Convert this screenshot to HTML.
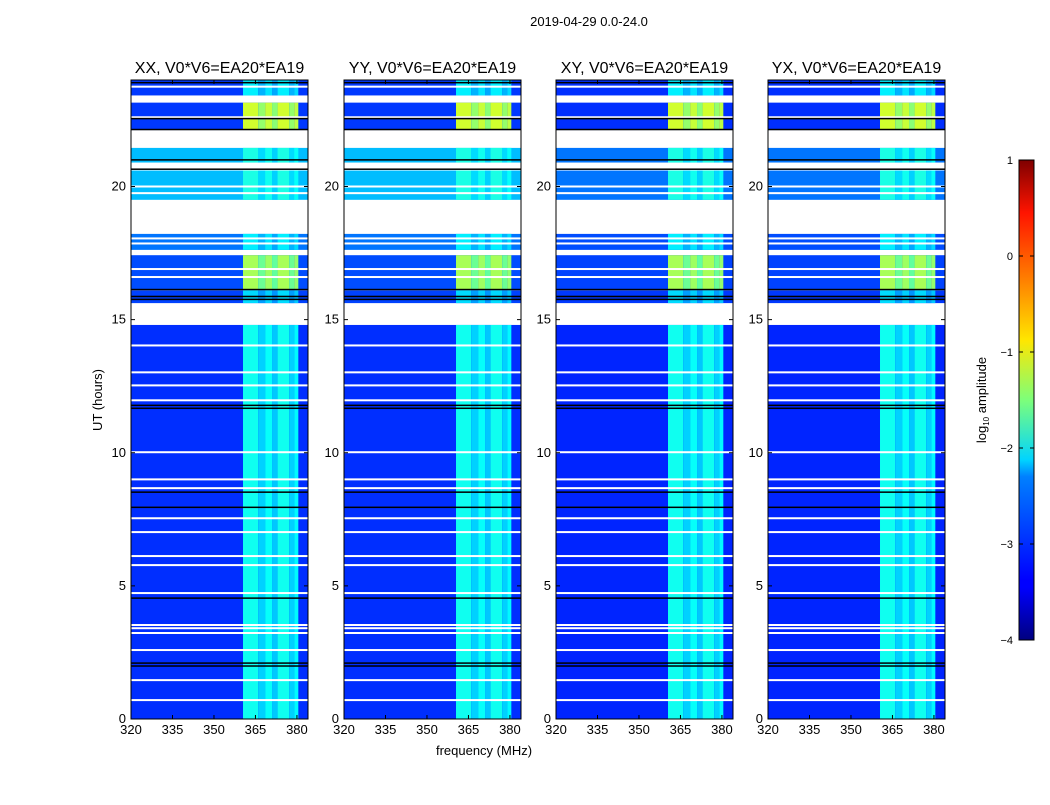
<!DOCTYPE html>
<html><head><meta charset="utf-8"><style>
body{margin:0;background:#fff;width:1050px;height:800px;overflow:hidden;font-family:"Liberation Sans","DejaVu Sans",sans-serif}
svg text{font-family:"Liberation Sans","DejaVu Sans",sans-serif}
</style></head><body>
<svg id="fig" width="1050" height="800" xmlns="http://www.w3.org/2000/svg">
<defs>
<linearGradient id="jet" x1="0" y1="1" x2="0" y2="0">
<stop offset="0" stop-color="#00007f"/><stop offset="0.11" stop-color="#0000ff"/><stop offset="0.125" stop-color="#0000ff"/>
<stop offset="0.34" stop-color="#0080ff"/><stop offset="0.375" stop-color="#00d4ff"/><stop offset="0.5" stop-color="#7dff7a"/>
<stop offset="0.625" stop-color="#ffe600"/><stop offset="0.75" stop-color="#ff8000"/><stop offset="0.89" stop-color="#ff1400"/><stop offset="1" stop-color="#7f0000"/>
</linearGradient>
</defs>
<text x="589" y="26" font-size="13" text-anchor="middle">2019-04-29 0.0-24.0</text>
<g id="panels"></g>
<text x="484" y="755" font-size="13" text-anchor="middle">frequency (MHz)</text>
<text x="0" y="0" font-size="13" text-anchor="middle" transform="translate(102,400) rotate(-90)">UT (hours)</text>
<g>
<rect x="1019" y="160" width="15" height="480" fill="url(#jet)" stroke="#000" stroke-width="1"/>
<g id="cbticks"></g>
<text font-size="13" text-anchor="middle" transform="translate(986,400) rotate(-90)">log<tspan font-size="8" dy="3">10</tspan><tspan dy="-3"> amplitude</tspan></text>
</g>
</svg>
<script>
// ---- data ----
const panelTitles = ["XX, V0*V6=EA20*EA19","YY, V0*V6=EA20*EA19","XY, V0*V6=EA20*EA19","YX, V0*V6=EA20*EA19"];
const xTicks = [320,335,350,365,380];
const yTicks = [0,5,10,15,20];
const cbTicks = [-4,-3,-2,-1,0,1];
const segStart = [0, 15.62, 16.15, 17.62, 19.5, 20.9, 22.12, 23.42];
const segEnd   = [14.8, 16.1, 17.42, 18.22, 20.6, 21.45, 23.15, 24.0];
const bgCross  = [-3.2, -3.1, -3.05, -3.0, -2.8, -2.8, -3.15, -3.15];
const bgPar    = [-3.15, -3.05, -3.0, -2.8, -2.45, -2.45, -3.1, -3.1];
const bandLvl  = [-2.15, -2.4, -1.4, -2.3, -2.1, -2.1, -1.2, -2.3];
const subStart = [360.5, 366.0, 368.5, 371.0, 373.0, 377.2, 379.0];
const subEnd   = [366.0, 368.5, 371.0, 373.0, 377.2, 379.0, 380.5];
const subOff   = [0.1, -0.2, 0.05, -0.25, 0.1, -0.2, 0.0];
const whiteRows = [14.03,13.02,12.53,11.97,10.02,9.0,8.67,7.54,7.02,6.12,5.78,4.73,3.53,3.41,3.23,2.59,1.46,0.71,18.05,17.86,16.9,16.6,20.0,19.75,22.6,23.75];
const blackRows = [11.78,11.67,8.52,7.95,4.54,2.1,1.99,16.13,15.87,15.76,22.55,22.14,23.9,21.0,20.65];
// ---- layout ----
const panelX = [131,344,556,768], pw = 177, yTop = 80, yBot = 719;
const fmin = 320, fmax = 384, tmax = 24;
const NS = "http://www.w3.org/2000/svg";
function jet(v){
  let t = Math.max(0,Math.min(1,(v+4)/5));
  const r = Math.max(0,Math.min(1,1.5-Math.abs(4*t-3)));
  const g = Math.max(0,Math.min(1,1.5-Math.abs(4*t-2)));
  const b = Math.max(0,Math.min(1,1.5-Math.abs(4*t-1)));
  return `rgb(${Math.round(r*255)},${Math.round(g*255)},${Math.round(b*255)})`;
}
function mk(tag, attrs, parent){ const e=document.createElementNS(NS,tag); for(const k in attrs) e.setAttribute(k,attrs[k]); parent.appendChild(e); return e; }
const root = document.getElementById('panels');
panelTitles.forEach((title,p)=>{
  const x0 = panelX[p];
  const xs = f => x0 + (f-fmin)/(fmax-fmin)*pw;
  const ys = h => yBot - h/tmax*(yBot-yTop);
  const g = mk('g',{},root);
  
  
  segStart.forEach((s,i)=>{
    const y1 = ys(segEnd[i]), y2 = ys(s);
    const bg = p<2 ? bgPar[i] : bgCross[i];
    const r = mk('rect',{x:x0,y:y1,width:pw,height:y2-y1,fill:jet(bg)},g);
    
    
    subStart.forEach((fs,j)=>{
      const rr = mk('rect',{x:xs(fs),y:y1,width:xs(subEnd[j])-xs(fs),height:y2-y1,fill:jet(bandLvl[i]+subOff[j])},g);
      
      
    });
  });
  whiteRows.forEach(h=>{
    const l = mk('rect',{x:x0,y:ys(h)-1,width:pw,height:2,fill:'#fff'},g);
    
    
  });
  blackRows.forEach(h=>{
    const l = mk('rect',{x:x0,y:ys(h)-0.75,width:pw,height:1.5,fill:'#000'},g);
    
    
  });
  const fr = mk('rect',{x:x0,y:yTop,width:pw,height:yBot-yTop,fill:'none',stroke:'#000','stroke-width':1},g);
  
  
  const t = mk('text',{x:x0+pw/2,y:yTop-7,'font-size':16,'text-anchor':'middle'},g);
  t.textContent = title;
  
  
  xTicks.forEach(f=>{
    const x = xs(f);
    mk('line',{x1:x,x2:x,y1:yBot,y2:yBot-4,stroke:'#000'},g);
    mk('line',{x1:x,x2:x,y1:yTop,y2:yTop+4,stroke:'#000'},g);
    const tx = mk('text',{x:x,y:yBot+15,'font-size':13,'text-anchor':'middle'},g);
    tx.textContent = f;
    
    
  });
  yTicks.forEach(h=>{
    const y = ys(h);
    mk('line',{x1:x0,x2:x0+4,y1:y,y2:y,stroke:'#000'},g);
    mk('line',{x1:x0+pw,x2:x0+pw-4,y1:y,y2:y,stroke:'#000'},g);
    const ty = mk('text',{x:x0-5,y:y+4,'font-size':13,'text-anchor':'end'},g);
    ty.textContent = h;
    
    
  });
});
const cb = document.getElementById('cbticks');
cbTicks.forEach(v=>{
  const y = 640 - (v+4)/5*480;
  mk('line',{x1:1019,x2:1023,y1:y,y2:y,stroke:'#000'},cb);
  mk('line',{x1:1034,x2:1030,y1:y,y2:y,stroke:'#000'},cb);
  const t = mk('text',{x:1013,y:y+4,'font-size':11,'text-anchor':'end'},cb);
  t.textContent = v<0 ? '\u2212'+Math.abs(v) : v;
  
  
});
</script>
</body></html>
